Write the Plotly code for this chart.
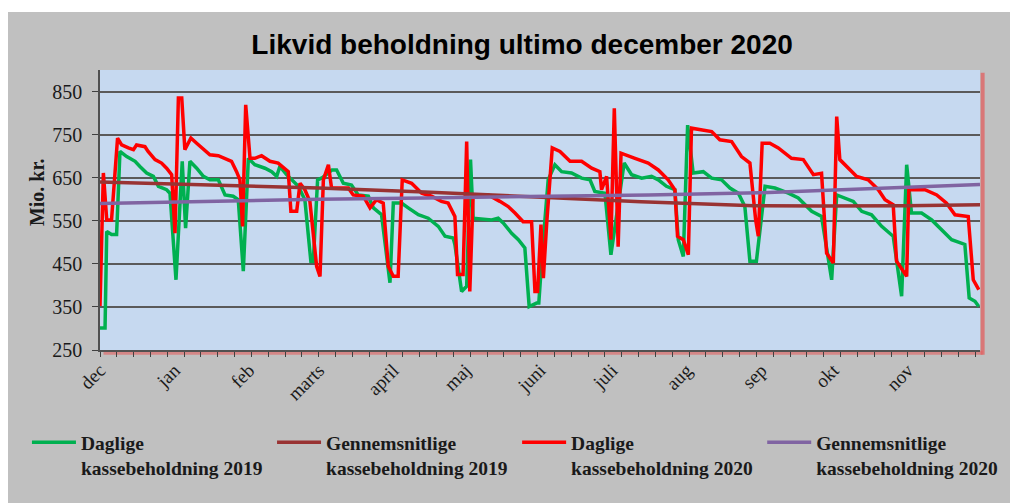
import plotly.graph_objects as go

# x positions are calendar days counted from 1 December 2019
month_labels = ["dec", "jan", "feb", "marts", "april", "maj", "juni",
                "juli", "aug", "sep", "okt", "nov"]
month_start_day = [0, 31, 62, 91, 122, 152, 183, 213, 244, 275, 305, 336]

y_ticks = [250, 350, 450, 550, 650, 750, 850]

# Daglige kassebeholdning 2019 (green)
d2019_day = [0, 2.1, 2.8, 4.8, 6.9, 8.3, 11.1, 14.6, 16.6, 19.4, 22.2, 24.3, 27.7, 29.1,
             31.6, 34.2, 35.6, 37.4, 40.2, 43, 45.7, 49.2, 52, 55.4, 57.5, 59.6, 61.7,
             64.4, 68.6, 71.4, 73.5, 74.8, 77.6, 79.7, 82.5, 85.2, 87.7, 88.7, 90.5,
             92.5, 96.5, 98.4, 101.2, 104.6, 107.4, 111.6, 113.7, 117.1, 120.6, 122,
             125.4, 128.2, 132.4, 136.5, 140.7, 143.5, 146.9, 147.6, 150.4, 152.5,
             154.1, 155.2, 162.9, 165.6, 167.7, 171.2, 174, 176.7, 178.5, 181.6, 182.5,
             184, 186.4, 189.2, 192, 196.1, 200.3, 203.8, 205.8, 210, 212.5, 218, 221.1,
             225.3, 229.4, 232.2, 235.6, 239.1, 240.5, 242.6, 244.4, 246.7, 250.9, 254.4,
             258.5, 262, 265.5, 268.2, 270.3, 273, 276.6, 280.7, 286.3, 290.4, 296,
             300.1, 304.3, 306.4, 309.8, 313.3, 316.8, 320.9, 325.1, 327.8, 329.9, 333.4,
             335.5, 337.5, 341.7, 345.9, 350.7, 354.2, 359.7, 361.5, 363.9, 365.5]
d2019_val = [301, 301, 525, 518, 518, 711, 699, 688, 676, 661, 653, 630, 622, 614,
             413, 688, 533, 688, 672, 653, 645, 645, 610, 607, 599, 433, 695,
             680, 672, 664, 653, 676, 657, 645, 630, 599, 456, 456, 645,
             650, 668, 668, 637, 633, 610, 607, 580, 564, 406, 591,
             591, 580, 564, 556, 537, 514, 510, 495, 386, 398,
             692, 556, 552, 556, 545, 521, 506, 487, 351, 359, 359,
             480, 645, 680, 664, 661, 649, 645, 618, 614, 471, 684, 657,
             649, 653, 645, 630, 622, 506, 467, 772, 661, 664, 649,
             645, 626, 614, 583, 456, 456, 630, 626, 614, 603, 572,
             560, 413, 610, 603, 595, 572, 564, 537, 525, 514, 375,
             680, 568, 568, 552, 525, 506, 495, 371, 363, 351]

# Daglige kassebeholdning 2020 (red)
d2020_day = [0, 1.4, 2.8, 4.8, 7.3, 9, 11.8, 13.9, 15.2, 18.7, 20, 22.9, 25.6, 27.7, 29.8,
             31.2, 32.6, 34, 35.3, 37.8, 40.2, 43, 45.7, 49.2, 52.7, 54.7, 56.8, 58.2,
             59.3, 60.6, 62.4, 64.4, 67.2, 70.7, 74.1, 76.9, 78.3, 79.4, 81.8, 83.2,
             85.2, 87.3, 90.1, 91.5, 92.9, 95, 96.3, 103.3, 105.3, 109.5, 112.3, 115,
             117.8, 119.9, 122, 124, 125.7, 129.6, 133.8, 137.9, 142, 144.8, 147.6,
             148.7, 151, 152.5, 153.8, 155.2, 161.5, 166.3, 169.8, 172.6, 176, 179.5,
             180.9, 182, 183.4, 184.4, 185.8, 188.1, 191.3, 195.5, 200.3, 204.5, 207.9,
             208.6, 210.7, 212.5, 213.9, 215.5, 216.7, 222.5, 228, 232.2, 236.3, 239.1,
             240.2, 242.6, 244.7, 246, 250.2, 254.4, 257.8, 262.7, 266.8, 270.3, 272.7,
             273.8, 275.4, 278.6, 282.1, 287.6, 292.5, 296.7, 300.1, 302.2, 305, 306.4,
             307.7, 311.2, 314.7, 319.5, 323.7, 326.5, 329.9, 331.3, 335.5, 336.4,
             343.1, 348, 352.1, 355.6, 361.1, 363.2, 365.5]
d2020_val = [352, 661, 552, 552, 742, 726, 719, 715, 726, 722, 711, 692, 684, 672, 657,
             521, 835, 835, 715, 742, 730, 715, 703, 701, 692, 688, 664, 645,
             537, 819, 695, 695, 701, 688, 684, 672, 664, 572, 572, 637,
             622, 595, 444, 421, 645, 680, 626, 626, 610, 607, 580, 599,
             591, 444, 421, 421, 645, 637, 614, 607, 595, 591, 560,
             425, 425, 734, 386, 610, 610, 595, 583, 568, 548, 548,
             386, 386, 541, 417, 545, 719, 711, 688, 688, 672, 664,
             622, 653, 506, 811, 490, 707, 695, 684, 668, 645, 622,
             514, 506, 471, 765, 761, 757, 738, 734, 699, 684, 552,
             514, 730, 730, 719, 695, 692, 657, 660, 475, 452, 792,
             692, 672, 653, 645, 622, 599, 587, 456, 421, 622,
             622, 610, 591, 564, 560, 413, 390]

# Gennemsnitlige kassebeholdning 2019 (brown) and 2020 (purple)
avg2019_day = [0, 45, 91, 135, 180, 225, 272, 300, 335, 366]
avg2019_val = [640, 634, 626, 617, 605, 594, 585, 584, 585, 587]
avg2020_day = [0, 45, 91, 135, 182, 228, 274, 320, 366]
avg2020_val = [590, 595, 600, 603, 606, 610, 615, 624, 634]

serif = "Liberation Serif"

fig = go.Figure()
fig.add_trace(go.Scatter(x=d2019_day, y=d2019_val, mode="lines", legend="legend",
                         name="<b>Daglige<br>kassebeholdning 2019</b>",
                         line=dict(color="#00b050", width=3.5)))
fig.add_trace(go.Scatter(x=d2020_day, y=d2020_val, mode="lines", legend="legend3",
                         name="<b>Daglige<br>kassebeholdning 2020</b>",
                         line=dict(color="#ff0000", width=3.5)))
fig.add_trace(go.Scatter(x=avg2019_day, y=avg2019_val, mode="lines", legend="legend2",
                         name="<b>Gennemsnitlige<br>kassebeholdning 2019</b>",
                         line=dict(color="#993333", width=3.5)))
fig.add_trace(go.Scatter(x=avg2020_day, y=avg2020_val, mode="lines", legend="legend4",
                         name="<b>Gennemsnitlige<br>kassebeholdning 2020</b>",
                         line=dict(color="#8064a2", width=3.5)))

shapes = [
    # white strip above the grey frame
    dict(type="rect", xref="paper", yref="paper", x0=-0.2, x1=1.1, y0=1.207, y1=1.3,
         fillcolor="white", line_width=0, layer="below"),
    # reddish shadow of the plot area
    dict(type="line", xref="paper", yref="paper", x0=1.003, x1=1.003, y0=-0.017, y1=0.99,
         line=dict(color="rgba(225,95,95,0.75)", width=4)),
    dict(type="line", xref="paper", yref="paper", x0=0.004, x1=1.003, y0=-0.010, y1=-0.010,
         line=dict(color="rgba(225,95,95,0.6)", width=4), layer="below"),
]


def legend_box(xpos):
    return dict(orientation="h", x=xpos, xanchor="left", y=-0.261, yanchor="top",
                valign="top", itemwidth=44, bgcolor="rgba(0,0,0,0)",
                font=dict(family=serif, size=19.5, color="#1a1a1a"))


fig.update_layout(
    width=1010, height=495,
    margin=dict(l=92, r=38, t=62, b=153, autoexpand=False),
    paper_bgcolor="#c0c0c0",
    plot_bgcolor="#c6d9f0",
    title=dict(text="<b>Likvid beholdning ultimo december 2020</b>",
               x=0.509, xref="container", y=1 - 36 / 495, yanchor="middle",
               font=dict(family="Liberation Sans", size=28, color="black")),
    showlegend=True,
    legend=legend_box(-0.083),
    legend2=legend_box(0.1955),
    legend3=legend_box(0.474),
    legend4=legend_box(0.7525),
    shapes=shapes,
    annotations=[dict(text="<b>Mio. kr.</b>", xref="paper", yref="paper",
                      x=-0.0716, y=0.564, xanchor="center", yanchor="middle",
                      textangle=-90, showarrow=False,
                      font=dict(family=serif, size=20, color="#1a1a1a"))],
)

fig.update_xaxes(range=[0, 366], tickmode="array", tickvals=month_start_day,
                 ticktext=month_labels, tickangle=-45, ticks="", showgrid=False,
                 zeroline=False, showline=True, linecolor="#505050", linewidth=1.5,
                 automargin=False,
                 tickfont=dict(family=serif, size=19, color="#1a1a1a"),
                 minor=dict(tick0=0, dtick=7, ticks="outside", ticklen=5,
                            tickcolor="#404040", tickwidth=1.2, showgrid=False))
fig.update_yaxes(range=[250, 900], tickmode="array", tickvals=y_ticks,
                 ticks="outside", ticklen=6, tickcolor="#404040", showgrid=True,
                 gridcolor="#5a5a5a", gridwidth=1.5, zeroline=False, showline=True,
                 linecolor="#505050", linewidth=1.5, automargin=False,
                 ticklabelstandoff=6,
                 tickfont=dict(family=serif, size=20, color="#1a1a1a"))

fig.write_html("out.html")
